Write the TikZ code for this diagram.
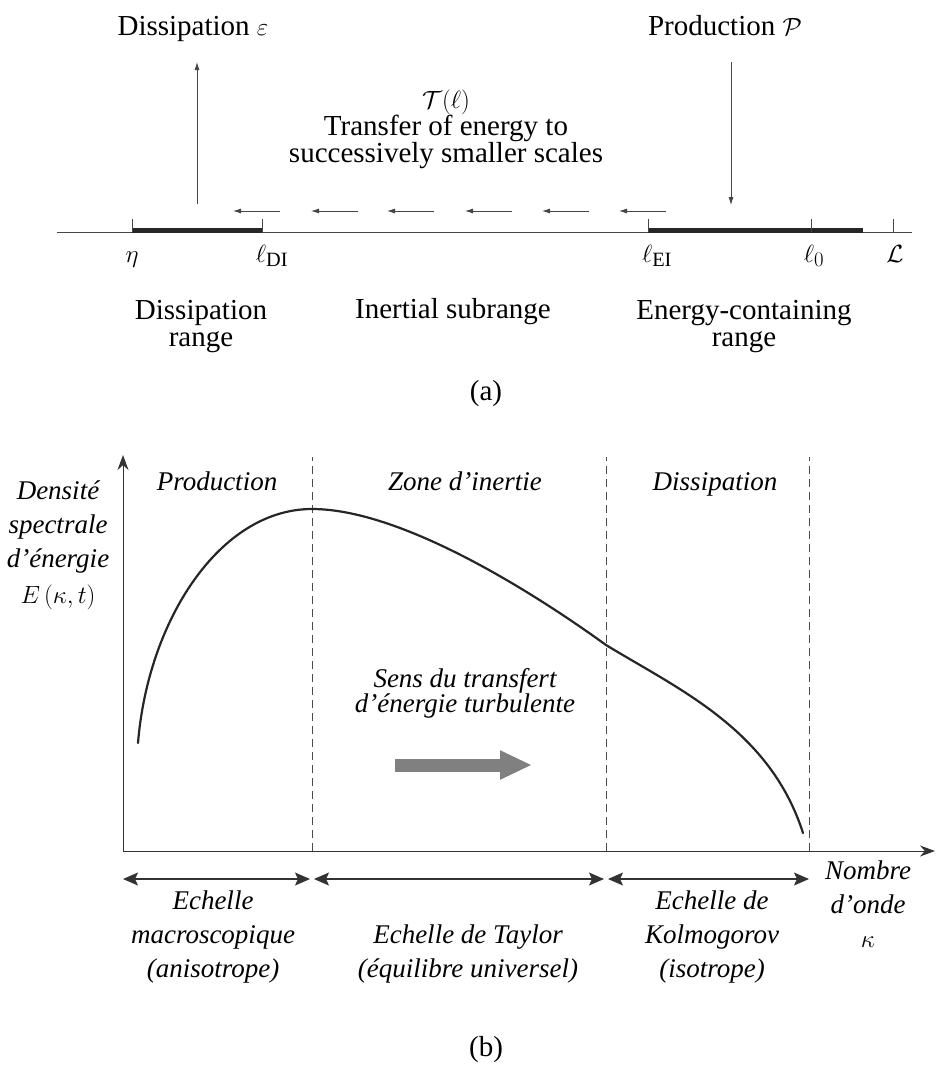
\documentclass[tikz,border=0pt]{standalone}
\usepackage{fontspec}
\setmainfont{Liberation Serif}
\usepackage{amsmath}
\usetikzlibrary{arrows.meta, positioning}
\definecolor{axisGray}{RGB}{70, 70, 70}
\definecolor{transferGray}{RGB}{128, 128, 128}

\begin{document}
\begin{tikzpicture}[
    x=1pt, y=-1pt,
    toplabel/.style={font=\fontsize{29}{27}\selectfont, inner sep=0pt, align=center},
    botlabel/.style={font=\fontsize{27}{34}\selectfont\itshape, inner sep=0pt, align=center},
    scalelabel/.style={font=\fontsize{29}{29}\selectfont, inner sep=0pt, anchor=base},
    smallarrow/.style={-{Latex[length=8pt,width=5pt]}, line width=0.8pt, axisGray},
    rangebar/.style={line width=4.5pt, black!85},
    divider/.style={line width=0.7pt, dash pattern=on 8pt off 5pt, black!70},
    scalearrow/.style={{Stealth[length=15pt,width=13pt,inset=3pt]}-{Stealth[length=15pt,width=13pt,inset=3pt]}, line width=1.3pt, black!80},
    axisarrow/.style={-{Stealth[length=15pt,width=11pt]}, line width=1pt, black!80}
]
    \useasboundingbox (0,0) rectangle (936,1066);

    % (a) scale axis
    \coordinate (axisL) at (57,232);
    \coordinate (axisR) at (912,232);
    \coordinate (eta) at (132,232);
    \coordinate (ldi) at (262,232);
    \coordinate (lei) at (648,232);
    \coordinate (lzero) at (811,232);
    \coordinate (lbig) at (893,232);
    \coordinate (rangeEnd) at (863,232);
    \draw[line width=0.8pt, axisGray] (axisL) -- (axisR);
    \draw[rangebar] ([yshift=1.5pt]eta) -- ([yshift=1.5pt]ldi);
    \draw[rangebar] ([yshift=1.5pt]lei) -- ([yshift=1.5pt]rangeEnd);
    \foreach \t in {eta, ldi, lei, lzero, lbig}
        \draw[line width=0.8pt, axisGray] (\t) -- ++(0,-13);

    \node[scalelabel, below=30pt of eta, anchor=base] (etaLabel) {$\eta$};
    \node[scalelabel, below=30pt of ldi, anchor=base, xshift=10pt] (ldiLabel) {$\ell_{\mathrm{DI}}$};
    \node[scalelabel, below=30pt of lei, anchor=base, xshift=9pt] (leiLabel) {$\ell_{\mathrm{EI}}$};
    \node[scalelabel, below=30pt of lzero, anchor=base, xshift=3pt] (lzeroLabel) {$\ell_0$};
    \node[scalelabel, below=30pt of lbig, anchor=base, xshift=2pt] (lbigLabel) {$\mathcal{L}$};

    % Production and dissipation
    \node[toplabel, anchor=base] (dissip) at (193,35) {Dissipation $\varepsilon$};
    \node[toplabel, anchor=base] (prod) at (725,35) {Production $\mathcal{P}$};
    \coordinate (dissFoot) at (197,204);
    \coordinate (dissTip) at (197,62);
    \coordinate (prodTop) at (731,62);
    \coordinate (prodFoot) at (731,205);
    \draw[smallarrow] (dissFoot) -- (dissTip);
    \draw[smallarrow] (prodTop) -- (prodFoot);

    % Transfer
    \node[toplabel, anchor=base] (transfer) at (446,162)
        {$\mathcal{T}(\ell)$\\Transfer of energy to\\successively smaller scales};
    \foreach \xs in {280,358,434,512,589,666}
        \draw[smallarrow] (\xs,211) -- ++(-47,0);

    % Ranges
    \node[toplabel, anchor=base] (dissRange) at (201,346) {Dissipation\\range};
    \node[toplabel, anchor=base] (inertRange) at (453,318) {Inertial subrange};
    \node[toplabel, anchor=base] (energyRange) at (744,346) {Energy-containing\\range};
    \node[toplabel, anchor=base] (capA) at (486,400) {(a)};

    % (b) spectrum
    \coordinate (origin) at (123,851);
    \coordinate (yTop) at (123,455);
    \coordinate (xEnd) at (935,851);
    \draw[axisarrow] (origin) -- (yTop);
    \draw[axisarrow] (origin) -- (xEnd);

    \coordinate (cutA) at (312,851);
    \coordinate (cutB) at (606,851);
    \coordinate (cutC) at (809,851);
    \foreach \c in {cutA, cutB, cutC}
        \draw[divider] (\c) -- ++(0,-394);

    \node[botlabel, anchor=base] (yLabel) at (58,603)
        {Densité\\spectrale\\d'énergie\\[2pt]$E\,(\kappa,t)$};
    \node[botlabel, anchor=base] (zoneProd) at (217,490) {Production};
    \node[botlabel, anchor=base] (zoneInert) at (465,490) {Zone d'inertie};
    \node[botlabel, anchor=base] (zoneDiss) at (715,490) {Dissipation};

    % spectrum curve
    \draw[line width=2.2pt, black!85, line cap=round]
        (138,743) .. controls (148,620) and (220,509) .. (312,509)
                  .. controls (400,509) and (530,590) .. (606,645)
                  .. controls (680,690) and (770,730) .. (803,833);

    \node[botlabel, font=\fontsize{27}{25}\selectfont\itshape, anchor=base] (sens) at (465,712)
        {Sens du transfert\\d'énergie turbulente};
    \coordinate (flowStart) at (395,765);
    \coordinate (flowEnd) at (532,765);
    \draw[line width=13pt, transferGray, -{Triangle[length=32pt,width=27pt]}] (flowStart) -- (flowEnd);

    % scale arrows
    \coordinate (sA) at (123,879);
    \coordinate (sB) at (310,879);
    \coordinate (sC) at (314,879);
    \coordinate (sD) at (604,879);
    \coordinate (sE) at (608,879);
    \coordinate (sF) at (809,879);
    \draw[scalearrow] (sA) -- (sB);
    \draw[scalearrow] (sC) -- (sD);
    \draw[scalearrow] (sE) -- (sF);

    \node[botlabel, anchor=base] (macro) at (213,977) {Echelle\\macroscopique\\(anisotrope)};
    \node[botlabel, anchor=base] (taylor) at (468,977) {Echelle de Taylor\\(équilibre universel)};
    \node[botlabel, anchor=base] (kolmo) at (712,977) {Echelle de\\Kolmogorov\\(isotrope)};
    \node[botlabel, anchor=base] (wavenum) at (868,947) {Nombre\\d'onde\\$\kappa$};
    \node[toplabel, anchor=base] (capB) at (486,1056) {(b)};

\end{tikzpicture}
\end{document}
